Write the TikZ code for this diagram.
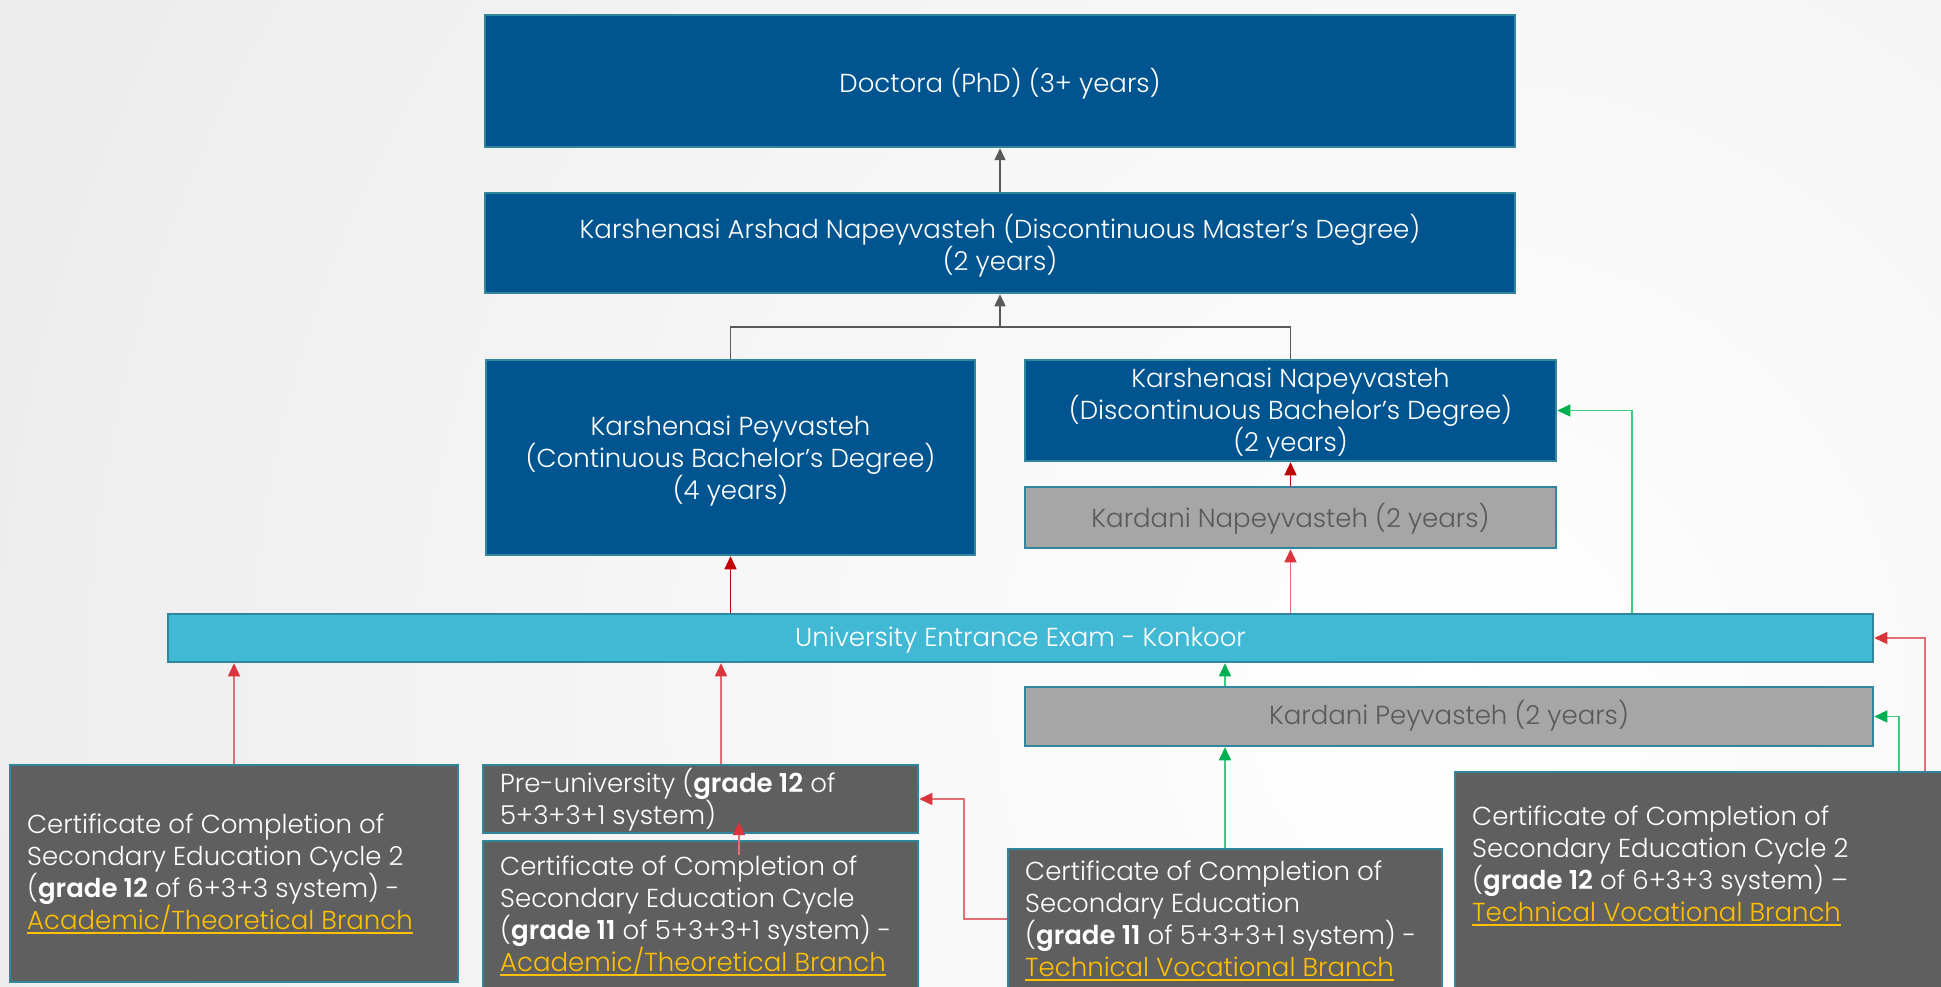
\documentclass[tikz,border=0pt]{standalone}
\usepackage{fontspec}
\setmainfont{Poppins}[UprightFont=* Light, BoldFont=* SemiBold]
\usetikzlibrary{arrows.meta}
\definecolor{bluebox}{HTML}{00548F}
\definecolor{cyanbox}{HTML}{41B8D4}
\definecolor{graybox}{HTML}{A6A6A6}
\definecolor{darkbox}{HTML}{5F5F5F}
\definecolor{edgecol}{HTML}{31859C}
\definecolor{graytext}{HTML}{595959}
\definecolor{linkcol}{HTML}{FFC000}
\definecolor{connGray}{HTML}{595959}
\definecolor{redDark}{HTML}{C00000}
\definecolor{redLine}{HTML}{E26F76}
\definecolor{redHead}{HTML}{DA343C}
\definecolor{greenLine}{HTML}{3DCB80}
\definecolor{greenHead}{HTML}{00B050}
\definecolor{bgGray}{HTML}{DCDCDC}
\newcommand\mainfs{\fontsize{26}{32}\selectfont}
\newcommand\ulink[1]{\textcolor{linkcol}{\setbox0\hbox{#1}\rlap{\rule[-4.5pt]{\wd0}{2pt}}\box0}}
\begin{document}
\begin{tikzpicture}[x=1pt,y=-1pt,
  box/.style={draw=edgecol, line width=2.5pt, inner sep=0pt},
  bluenode/.style={box, fill=bluebox},
  cyannode/.style={box, fill=cyanbox},
  graynode/.style={box, fill=graybox},
  darknode/.style={box, fill=darkbox},
  boxtext/.style={align=center, text=white, font=\mainfs, inner sep=0pt},
  graytxt/.style={boxtext, text=graytext},
  celltext/.style={anchor=west, align=left, text=white, font=\mainfs, inner sep=0pt},
  conn/.style={line width=1.4pt},
  grayline/.style={conn, draw=connGray},
  grayarrow/.style={conn, draw=connGray, -{Triangle[length=12pt,width=11pt,color=connGray]}},
  darkredarrow/.style={conn, draw=redDark, -{Triangle[length=13pt,width=12pt,color=redDark]}},
  redarrow/.style={conn, draw=redLine, -{Triangle[length=13pt,width=12pt,color=redHead]}},
  greenarrow/.style={conn, draw=greenLine, -{Triangle[length=13pt,width=12pt,color=greenHead]}}
]
\useasboundingbox (0,0) rectangle (1941,987);
\clip (0,0) rectangle (1941,987);
\fill[bgGray] (0,0) rectangle (1941,987);
\shade[inner color=white, outer color=bgGray] (1450,700) circle (2900);

% boxes
\node[bluenode, minimum width=1030pt, minimum height=132pt] (phd) at (1000,81) {};
\node[bluenode, minimum width=1030pt, minimum height=100pt] (master) at (1000,243) {};
\node[bluenode, minimum width=489pt, minimum height=195pt] (cbach) at (730.5,457.5) {};
\node[bluenode, minimum width=531pt, minimum height=101pt] (dbach) at (1290.5,410.5) {};
\node[graynode, minimum width=531pt, minimum height=61pt] (knap) at (1290.5,517.5) {};
\node[cyannode, minimum width=1705pt, minimum height=48pt] (konkoor) at (1020.5,638) {};
\node[graynode, minimum width=848pt, minimum height=59pt] (kpey) at (1449,716.5) {};
\node[darknode, minimum width=448pt, minimum height=217pt] (lcert) at (234,873.5) {};
\node[darknode, minimum width=435pt, minimum height=68pt] (preuni) at (700.5,799) {};
\node[darknode, minimum width=435pt, minimum height=149pt] (acad) at (700.5,915.5) {};
\node[darknode, minimum width=434pt, minimum height=140pt] (tcert) at (1225,919) {};
\node[darknode, minimum width=505pt, minimum height=228pt] (rcert) at (1707.5,886) {};

% texts of the centred boxes
\node[boxtext] (phdT) at (1000,83.5) {Doctora (PhD) (3+ years)};
\node[boxtext] (masterT) at (1000,246) {Karshenasi Arshad Napeyvasteh (Discontinuous Master’s Degree)\\(2 years)};
\node[boxtext] (cbachT) at (730.5,461) {Karshenasi Peyvasteh\\(Continuous Bachelor’s Degree)\\(4 years)};
\node[boxtext] (dbachT) at (1290.5,413) {Karshenasi Napeyvasteh\\(Discontinuous Bachelor’s Degree)\\(2 years)};
\node[graytxt] (knapT) at (1290.5,519) {Kardani Napeyvasteh (2 years)};
\node[boxtext] (konkoorT) at (1020.5,640.5) {University Entrance Exam - Konkoor};
\node[graytxt] (kpeyT) at (1449,716) {Kardani Peyvasteh (2 years)};

% texts of the certificate boxes
\node[celltext] (lcertT) at (27,873.5) {Certificate of Completion of\\Secondary Education Cycle 2\\(\textbf{grade 12} of 6+3+3 system) -\\\ulink{Academic/Theoretical Branch}};
\node[celltext] (preuniT) at (500,799.5) {Pre-university (\textbf{grade 12} of\\5+3+3+1 system)};
\node[celltext] (acadT) at (500,916) {Certificate of Completion of\\Secondary Education Cycle\\(\textbf{grade 11} of 5+3+3+1 system) -\\\ulink{Academic/Theoretical Branch}};
\node[celltext] (tcertT) at (1025,921) {Certificate of Completion of\\Secondary Education\\(\textbf{grade 11} of 5+3+3+1 system) -\\\ulink{Technical Vocational Branch}};
\node[celltext] (rcertT) at (1472,865.5) {Certificate of Completion of\\Secondary Education Cycle 2\\(\textbf{grade 12} of 6+3+3 system) –\\\ulink{Technical Vocational Branch}};

% connectors
\coordinate (jn) at (1000,327);
\draw[grayline] (cbach.north) |- (jn) -| (dbach.north);
\draw[grayarrow] (jn) -- (master.south);
\draw[grayarrow] (master.north) -- (phd.south);

\draw[darkredarrow] (konkoor.north -| cbach.south) -- (cbach.south);
\draw[darkredarrow] (knap.north) -- (dbach.south);
\draw[redarrow] (konkoor.north -| knap.south) -- (knap.south);
\coordinate (gx1) at (1632,0);
\draw[greenarrow] (konkoor.north -| gx1) |- (dbach.east);

\draw[redarrow] (lcert.north) -- (lcert.north |- konkoor.south);
\coordinate (px) at (721,0);
\draw[redarrow] (preuni.north -| px) -- (konkoor.south -| px);
\coordinate (a1) at (739,855);
\coordinate (a2) at (739,822);
\draw[redarrow] (a1) -- (a2);
\coordinate (tk) at (964,919);
\draw[redarrow] (tcert.west) -- (tk) |- (preuni.east);

\draw[greenarrow] (tcert.north) -- (kpey.south -| tcert.north);
\draw[greenarrow] (kpey.north -| tcert.north) -- (konkoor.south -| tcert.north);
\coordinate (gx2) at (1899,0);
\draw[greenarrow] (rcert.north -| gx2) |- (kpey.east);
\coordinate (rx) at (1925,0);
\draw[redarrow] (rcert.north -| rx) |- (konkoor.east);
\end{tikzpicture}
\end{document}
